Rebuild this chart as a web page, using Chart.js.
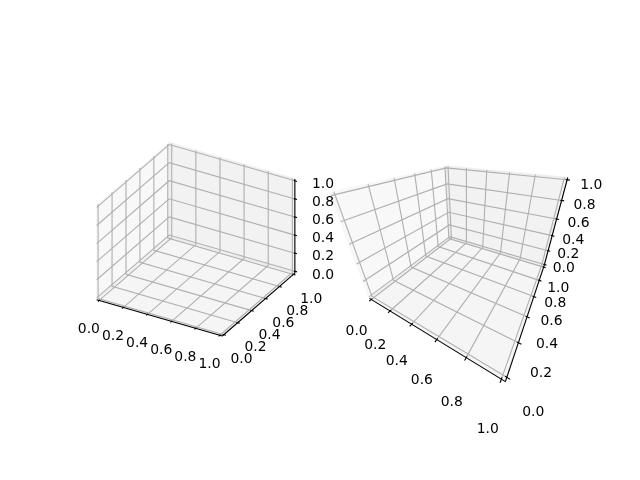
<!DOCTYPE html>
<html>
<head>
<meta charset="utf-8">
<title>3D axes</title>
<script src="https://cdn.jsdelivr.net/npm/chart.js@4"></script>
<style>
    html, body { margin: 0; padding: 0; background: #fff; }
    canvas { display: block; }
</style>
</head>
<body>
<canvas id="chart" width="640" height="480"></canvas>
<script>
// Tick values shared by all three axes of both panels
const tickValues = [0, 0.2, 0.4, 0.6, 0.8, 1];
const tickLabels = ['0.0', '0.2', '0.4', '0.6', '0.8', '1.0'];

// Camera of each panel, focal length 0 means orthographic
const panelLeft = [80, 350.55];
const elevations = [30, 30];
const azimuths = [-60, -60];
const focalLengths = [0, 0.15];

const LO = -1 / 48;
const HI = 1 + 1 / 48;
const DELTA = (HI - LO) / 12;
const TICK_OUT = 0.2 * DELTA;
const TICK_IN = 0.1 * DELTA;
const LABEL_OFFSET = 11.5 * (48 / 324.6) * DELTA;

const GRID_WIDTH = 1.11;
const AXIS_WIDTH = 1.11;

// Same projection as a matplotlib 3d axes, result in figure pixels
function project(panel, x, y, z) {
    const scaleXY = 1.1905 / (HI - LO);
    const scaleZ = 0.8929 / (HI - LO);
    const e = elevations[panel] * Math.PI / 180;
    const a = azimuths[panel] * Math.PI / 180;
    const f = focalLengths[panel];
    const rx = (x - 0.5) * scaleXY;
    const ry = (y - 0.5) * scaleXY;
    const rz = (z - 0.5) * scaleZ;
    const xv = -Math.sin(a) * rx + Math.cos(a) * ry;
    const yv = -Math.sin(e) * Math.cos(a) * rx - Math.sin(e) * Math.sin(a) * ry + Math.cos(e) * rz;
    const depth = Math.cos(e) * Math.cos(a) * rx + Math.cos(e) * Math.sin(a) * ry + Math.sin(e) * rz;
    const k = f ? f / (10 * f - depth) : 0.1;
    return {
        x: panelLeft[panel] + (k * xv + 0.095) / 0.185 * 225.45,
        y: 355.1 - (k * yv + 0.095) / 0.185 * 225.45
    };
}

function addPath(list, panel, points, color, width, fillColor) {
    list.push({
        data: points.map(p => project(panel, p[0], p[1], p[2])),
        showLine: true,
        pointRadius: 0,
        borderColor: color,
        borderWidth: width,
        backgroundColor: fillColor || 'transparent',
        fill: fillColor ? 'shape' : false,
        tension: 0,
        clip: false
    });
}

function buildPanel(list, panel) {
    // panes
    addPath(list, panel, [[LO, LO, LO], [LO, HI, LO], [LO, HI, HI], [LO, LO, HI], [LO, LO, LO]],
        'rgba(242,242,242,0.5)', 1.39, 'rgba(242,242,242,0.5)');
    addPath(list, panel, [[LO, HI, LO], [HI, HI, LO], [HI, HI, HI], [LO, HI, HI], [LO, HI, LO]],
        'rgba(230,230,230,0.5)', 1.39, 'rgba(230,230,230,0.5)');
    addPath(list, panel, [[LO, LO, LO], [HI, LO, LO], [HI, HI, LO], [LO, HI, LO], [LO, LO, LO]],
        'rgba(236,236,236,0.5)', 1.39, 'rgba(236,236,236,0.5)');

    // grid
    tickValues.forEach(v => {
        addPath(list, panel, [[v, LO, LO], [v, HI, LO], [v, HI, HI]], '#b0b0b0', GRID_WIDTH);
        addPath(list, panel, [[HI, v, LO], [LO, v, LO], [LO, v, HI]], '#b0b0b0', GRID_WIDTH);
        addPath(list, panel, [[LO, LO, v], [LO, HI, v], [HI, HI, v]], '#b0b0b0', GRID_WIDTH);
    });

    // axis lines
    addPath(list, panel, [[LO, LO, LO], [HI, LO, LO]], '#000', AXIS_WIDTH);
    addPath(list, panel, [[HI, LO, LO], [HI, HI, LO]], '#000', AXIS_WIDTH);
    addPath(list, panel, [[HI, HI, LO], [HI, HI, HI]], '#000', AXIS_WIDTH);

    // tick marks
    tickValues.forEach(v => {
        addPath(list, panel, [[v, LO - TICK_OUT, LO], [v, LO + TICK_IN, LO]], '#000', AXIS_WIDTH);
        addPath(list, panel, [[HI + TICK_OUT, v, LO], [HI - TICK_IN, v, LO]], '#000', AXIS_WIDTH);
        addPath(list, panel, [[HI + TICK_OUT, HI, v], [HI - TICK_IN, HI, v]], '#000', AXIS_WIDTH);
    });
}

const datasets = [];
buildPanel(datasets, 0);
buildPanel(datasets, 1);
// Chart.js paints the first dataset last, panes have to end up underneath
datasets.reverse();

// Tick labels sit off the edges in data space, like the 3d axes do it
const tickLabelPlugin = {
    id: 'tickLabels',
    afterDatasetsDraw(chart) {
        const ctx = chart.ctx;
        const sx = chart.scales.x;
        const sy = chart.scales.y;
        ctx.save();
        ctx.font = '13.9px "DejaVu Sans"';
        ctx.fillStyle = '#000';
        ctx.textAlign = 'center';
        ctx.textBaseline = 'alphabetic';
        const put = (text, p, down) => {
            ctx.fillText(text, sx.getPixelForValue(p.x), sy.getPixelForValue(p.y) + down);
        };
        [0, 1].forEach(panel => {
            tickValues.forEach((v, i) => {
                const far = LABEL_OFFSET;
                put(tickLabels[i], project(panel, v, LO - far, LO - far), 10);
                put(tickLabels[i], project(panel, HI + far, v, LO - far), 10);
                put(tickLabels[i], project(panel, HI + far, HI + far, v), 11);
            });
        });
        ctx.restore();
    }
};

new Chart(document.getElementById('chart').getContext('2d'), {
    type: 'scatter',
    data: { datasets: datasets },
    options: {
        responsive: false,
        animation: false,
        layout: { padding: 0 },
        plugins: { legend: { display: false }, tooltip: { enabled: false } },
        scales: {
            x: { type: 'linear', min: 0, max: 640, display: false },
            y: { type: 'linear', min: 0, max: 480, reverse: true, display: false }
        }
    },
    plugins: [tickLabelPlugin]
});
</script>
</body>
</html>
